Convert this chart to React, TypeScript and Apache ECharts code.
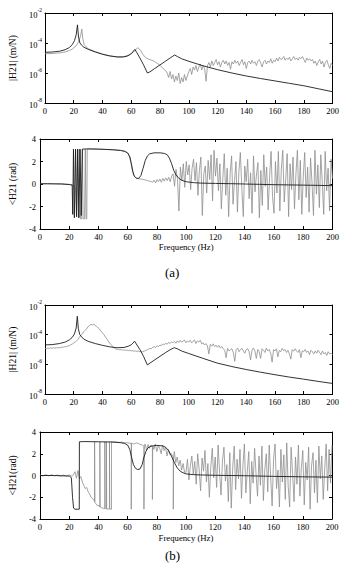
import React, { useEffect, useRef } from 'react';
import * as echarts from 'echarts';

// ---------- (a) |H21| : values are log10 of |H21| in m/N ----------
const magABlackFreq = [0,5,10,14,17,19,20.5,21.7,22.6,23.3,24.3,25.5,27,30,35,40,45,50,54,57,59.5,61,62.5,63.7,66,68.5,71.2,73,76,80,84,87,89,90.2,92,95,100,110,120,130,140,150,160,170,180,190,200];
const magABlackLog = [-4.62,-4.6,-4.55,-4.45,-4.3,-4.1,-3.85,-3.45,-2.79,-3.6,-4.0,-4.15,-4.28,-4.42,-4.6,-4.75,-4.86,-4.93,-4.94,-4.88,-4.75,-4.6,-4.42,-4.62,-5.0,-5.45,-6.0,-5.92,-5.72,-5.46,-5.2,-5.0,-4.87,-4.8,-4.9,-5.05,-5.22,-5.52,-5.78,-6.0,-6.2,-6.37,-6.53,-6.69,-6.85,-7.05,-7.25];

const magAGreyFreq = [0,5,10,14,17,19,21,22.6,23.8,24.8,25.6,26.3,27.2,28.5,30,35,40,45,50,55,58,61,63,64.7,66.5,68,70,72,74,76,78,80,82,84];
const magAGreyLog = [-4.71,-4.7,-4.66,-4.6,-4.5,-4.4,-4.25,-4.05,-3.8,-3.5,-3.07,-3.7,-4.1,-4.25,-4.38,-4.58,-4.74,-4.86,-4.92,-4.9,-4.82,-4.65,-4.45,-4.31,-4.5,-4.75,-4.98,-5.08,-5.14,-5.22,-5.35,-5.5,-5.68,-5.85];
// measured (noisy) part, one value per Hz from 85 Hz
const magAGreyNoiseStart = 85;
const magAGreyNoiseLog = [
  -6.0,-6.3,-5.9,-6.4,-6.1,-6.6,-6.2,-6.5,-6.0,-6.7,
  -6.3,-6.6,-6.1,-6.5,-6.2,-5.9,-5.7,-6.1,-5.6,-5.8,
  -5.5,-5.9,-5.6,-5.4,-5.8,-5.5,-5.7,-6.55,-5.5,-5.3,
  -5.6,-5.2,-5.5,-5.3,-5.1,-5.45,-5.25,-5.6,-5.3,-5.15,
  -5.4,-5.2,-5.5,-5.3,-5.75,-5.25,-5.4,-5.15,-5.35,-5.2,
  -5.5,-5.3,-5.1,-5.45,-5.25,-5.7,-5.3,-5.2,-5.4,-5.15,
  -5.35,-5.25,-5.5,-5.2,-5.1,-5.35,-5.6,-5.25,-5.15,-5.4,
  -5.2,-5.3,-5.05,-5.35,-5.15,-5.25,-5.0,-5.2,-4.95,-5.1,
  -5.05,-4.9,-5.15,-5.0,-5.1,-4.95,-5.2,-5.05,-4.9,-5.1,
  -5.0,-5.15,-4.95,-5.05,-4.9,-5.1,-5.3,-5.0,-5.15,-5.05,
  -5.2,-5.1,-5.35,-5.2,-5.5,-5.25,-5.1,-5.4,-5.2,-5.6,
  -5.3,-5.15,-5.45,-5.7,-5.35,-5.5
];

// ---------- (a) <H21 (rad) ----------
const phABlackFreq = [0,5,10,15,20,22,22.4,22.9,23.5,24.3,25.0,25.8,26.6,27.4,28.2,29,32,40,45,50,55,58,60,61.5,62.5,63.5,64.5,66,67.5,69,70.5,72,73.5,75,78,82,85,87,88.5,90,91.5,93,95,97,100,105,110,120,130,140,150,160,170,180,190,200];
const phABlack = [0.02,0.02,0.01,0,-0.05,-0.1,-2.7,3.1,-3.0,3.1,-2.9,3.1,-3.0,3.1,-2.8,3.1,3.12,3.1,3.07,3.04,2.98,2.9,2.75,2.4,1.8,1.1,0.7,0.5,0.5,0.75,1.4,2.1,2.5,2.68,2.77,2.77,2.72,2.6,2.3,1.8,1.2,0.8,0.5,0.33,0.2,0.12,0.08,0.05,0.03,0.0,-0.03,-0.06,-0.08,-0.1,-0.12,-0.15];

const phAGreyFreq = [0,5,10,15,20,22,23,24.5,25,25.6,26.3,27,27.7,28.5,29,29.5,30.5,31,31.5,32,32.3,35,40,45,50,55,58,60,61,62,63,64,65,67,70,72,74,76];
const phAGrey = [0.03,0.03,0.02,0.01,-0.03,-0.05,-0.15,-0.5,-2.9,3.1,-3.0,3.1,-3.1,-3.1,3.1,-3.1,-3.1,3.1,-3.1,-3.1,3.1,3.12,3.1,3.08,3.05,3.0,2.92,2.75,2.5,2.0,1.3,0.8,0.6,0.48,0.42,0.36,0.28,0.22];
const phAGreyNoiseStart = 77;
const phAGreyNoise = [
  0.15,0.35,0.1,0.4,0.2,0.45,0.15,0.5,0.25,0.55,
  0.3,0.6,0.2,0.7,0.9,-0.2,1.3,0.5,-2.4,1.5,
  0.3,1.8,-0.3,2.0,0.8,1.7,-0.5,1.4,2.2,0.3,
  1.9,-1.0,1.2,2.4,-2.8,0.9,1.6,-0.8,2.1,0.4,
  2.6,-1.5,3.0,0.7,2.3,-0.6,1.8,-2.2,0.5,2.7,
  -1.0,1.4,-2.9,0.9,2.5,-1.8,0.3,2.0,-2.5,1.1,
  2.8,-0.4,-2.9,1.6,0.2,2.2,-1.3,1.0,-2.6,2.5,
  -0.7,0.8,1.9,-3.0,1.2,-1.9,2.6,-0.2,1.5,-2.3,
  0.6,2.9,-1.1,-2.6,2.0,-0.8,2.9,-2.4,1.3,3.0,
  -1.6,0.4,2.7,-2.9,1.8,-0.5,2.4,-2.2,0.9,3.0,
  -1.4,2.1,-2.7,0.6,2.8,-1.2,1.5,-2.5,2.3,0.1,
  -2.8,3.0,-0.9,1.7,-2.1,2.6,0.2,-2.7,2.9,-0.6,
  1.4,-2.4,2.2,0.5
];

// ---------- (b) |H21| ----------
const magBBlackFreq = [0,5,10,14,17,19,20.5,21.7,22.5,23.2,24.2,25.5,27,30,35,40,45,50,55,58,60,61.3,62.3,63.5,66,68.5,71.2,73,76,80,84,87,89,90,92,95,100,110,120,130,140,150,160,170,180,190,200];
const magBBlackLog = [-4.69,-4.67,-4.6,-4.5,-4.35,-4.18,-3.95,-3.55,-2.76,-3.6,-4.0,-4.15,-4.3,-4.45,-4.6,-4.72,-4.82,-4.88,-4.86,-4.78,-4.68,-4.56,-4.44,-4.62,-5.0,-5.45,-6.04,-5.92,-5.72,-5.46,-5.2,-5.02,-4.92,-4.88,-4.95,-5.1,-5.27,-5.6,-5.92,-6.15,-6.35,-6.53,-6.7,-6.86,-7.0,-7.15,-7.29];
// one value per Hz from 0 Hz
const magBGreyStart = 0;
const magBGreyLog = [
  -4.92,-4.95,-4.9,-4.93,-4.89,-4.92,-4.88,-4.91,-4.87,-4.9,
  -4.86,-4.88,-4.83,-4.85,-4.8,-4.82,-4.76,-4.74,-4.68,-4.63,
  -4.56,-4.5,-4.42,-4.32,-4.16,-4.05,-3.95,-3.8,-3.7,-3.6,
  -3.45,-3.38,-3.3,-3.35,-3.28,-3.4,-3.45,-3.55,-3.62,-3.78,
  -3.88,-4.0,-4.15,-4.28,-4.42,-4.58,-4.66,-4.8,-4.88,-4.95,
  -4.98,-5.0,-5.02,-5.0,-5.04,-5.02,-5.06,-5.04,-5.08,-5.05,
  -5.1,-5.08,-5.12,-5.09,-5.13,-5.1,-5.15,-5.12,-5.16,-5.1,
  -5.08,-5.02,-4.98,-4.92,-4.95,-4.85,-4.82,-4.86,-4.75,-4.8,
  -4.7,-4.74,-4.62,-4.68,-4.58,-4.64,-4.52,-4.6,-4.48,-4.55,
  -4.45,-4.58,-4.42,-4.52,-4.38,-4.5,-4.44,-4.36,-4.55,-4.42,
  -4.5,-4.38,-4.56,-4.44,-4.35,-4.6,-4.42,-4.5,-4.37,-4.62,
  -4.55,-4.7,-4.6,-4.75,-5.3,-4.65,-4.78,-4.62,-4.8,-4.7,
  -4.85,-4.72,-4.9,-4.8,-4.95,-5.05,-5.55,-4.92,-5.1,-5.0,
  -4.95,-5.2,-5.8,-5.0,-4.9,-5.15,-5.0,-4.92,-5.1,-5.25,
  -5.0,-4.95,-5.15,-5.7,-5.05,-4.9,-5.1,-5.6,-5.0,-5.15,
  -5.6,-4.95,-5.05,-5.2,-4.9,-5.1,-5.0,-5.25,-5.85,-5.0,
  -5.1,-4.95,-5.5,-5.05,-5.15,-4.92,-5.08,-5.0,-5.2,-5.05,
  -5.3,-5.65,-5.0,-5.12,-4.95,-5.1,-5.2,-5.0,-5.55,-5.08,
  -5.15,-5.0,-5.2,-5.1,-5.35,-5.05,-5.15,-5.3,-5.1,-5.25,
  -5.05,-5.2,-5.35,-5.1,-5.3,-5.2,-5.4,-5.15,-5.3,-5.25,
  -5.35
];

// ---------- (b) <H21 (rad) ----------
const phBBlackFreq = [0,10,20,21.5,22.3,23,24,26.9,27,30,40,50,55,58,60,61.5,62.5,64,65.5,67,68.5,70,71,72.5,74,76,80,84,86,88,90,92,94,96,98,100,105,110,120,140,160,180,200];
const phBBlack = [0,0,-0.05,-0.2,-2.0,-3.0,-3.1,-3.1,3.1,3.12,3.1,3.08,3.02,2.95,2.8,2.4,1.8,1.0,0.65,0.55,0.6,1.0,1.6,2.2,2.55,2.7,2.77,2.72,2.6,2.3,1.8,1.2,0.7,0.4,0.25,0.15,0.08,0.05,0.02,-0.02,-0.08,-0.12,-0.15];
// grey, 0–99 Hz (with phase-wrap jumps)
const phBGreyFreq = [
  0,2,4,6,8,10,12,14,16,18,20,22,23,24,25,26,27,28,29,30,
  31,32,33,34,35,36,37,37.4,37.4,37.6,37.6,38.5,39.5,40.5,41,41,41.2,41.2,42,43,
  44.4,44.4,44.6,44.6,45.5,45.5,45.7,45.7,47.6,47.6,47.8,47.8,49,49,50,52,54,56,58,60,
  62,62.5,62.5,62.7,62.7,64,66,68,70,71.2,71.2,71.4,71.4,72,73,74,75,76,77,77,
  77.2,77.2,78,79,80,81,82,83,84,85,86,87,88,89,90,91.3,91.3,91.5,91.5,92,
  93,94,95,96,97,98,99
];
const phBGrey = [
  0.05,-0.05,0.08,-0.03,0.07,-0.05,0.05,-0.07,0.04,-0.06,0.05,-0.08,0.1,0.35,-0.25,0.45,-0.3,-0.1,-0.6,-0.9,
  -1.2,-1.1,-1.5,-1.7,-2.0,-2.1,-2.3,-2.4,3.1,3.1,-2.5,-2.6,-2.8,-2.75,-2.9,3.1,3.1,-2.9,-2.95,-3.0,
  -3.05,3.1,3.1,-3.0,-3.05,3.1,3.1,-3.1,-3.05,3.1,3.1,-3.1,-3.1,3.1,3.05,3.08,3.04,3.07,3.0,3.02,
  2.95,3.0,-3.1,-3.1,2.95,2.9,3.0,2.9,2.8,2.7,-3.1,-3.1,2.6,2.9,2.3,2.85,2.5,2.8,2.6,-2.2,
  -2.2,2.7,2.4,2.9,2.2,2.75,2.5,2.0,2.8,2.3,2.6,1.8,2.4,1.9,2.0,1.7,-3.1,-3.1,1.6,2.2,
  1.2,1.7,0.9,1.4,0.5,1.1,0.3
];
// grey, one value per Hz from 100 Hz
const phBGreyNoiseStart = 100;
const phBGreyNoise = [
  0.3,1.5,-0.4,0.9,1.8,0.1,1.3,-0.8,2.0,0.6,
  -1.4,1.6,0.4,2.3,-0.6,1.1,-2.0,0.8,2.5,-0.2,
  1.7,-1.1,2.8,0.3,-1.8,1.4,2.6,-0.5,1.0,-2.4,
  2.1,-3.0,0.7,2.7,-1.3,1.5,-0.3,2.4,-2.1,0.9,
  2.9,-1.6,0.4,2.2,-2.6,1.3,-0.7,2.5,0.1,-1.9,
  1.8,-0.9,2.7,-2.3,0.6,2.0,-1.5,2.8,-0.2,-2.8,
  1.6,2.9,-1.2,0.5,-2.9,2.4,-0.6,1.9,-2.2,3.0,
  -1.0,-2.9,2.6,0.2,-2.4,1.7,-0.8,2.8,-1.9,0.7,
  2.3,-2.7,1.2,-0.4,2.6,-3.1,0.9,2.1,-1.6,1.4,
  -2.5,2.7,-0.3,1.8,-2.2,0.6,2.9,-1.4,2.4,-0.7,
  2.8
];

const xTickStep = 20;
const magTicksMin = 1e-8;
const magTicksMax = 1e-2;
const phaseMin = -4;
const phaseMax = 4;
const phaseStep = 2;

const FONT = '"Liberation Serif", "Times New Roman", serif';
const BLACK = '#1c1c1c';
const GREY = '#8e8e8e';

const pairs = (f: number[], v: number[]) => f.map((x, i) => [x, v[i]]);
const pairsLog = (f: number[], v: number[]) => f.map((x, i) => [x, Math.pow(10, v[i])]);
const stepped = (start: number, v: number[]) => v.map((y, i) => [start + i, y]);
const steppedLog = (start: number, v: number[]) => v.map((y, i) => [start + i, Math.pow(10, y)]);

export default function App() {
  const ref = useRef<HTMLDivElement>(null);
  useEffect(() => {
    document.body.style.margin = '0';
    if (!ref.current) return;
    const chart = echarts.init(ref.current, null, { renderer: 'svg' });

    const grids = [
      { left: 26, top: 13, width: 307, height: 90 },
      { left: 26.5, top: 139, width: 306, height: 90 },
      { left: 27, top: 305, width: 305.5, height: 89 },
      { left: 27, top: 432, width: 305, height: 87 },
    ];
    const axisLine = { show: true, onZero: false, lineStyle: { color: '#000', width: 1 } };
    const tick = { show: true, inside: true, length: 3, lineStyle: { color: '#000', width: 1 } };
    const labelBase = { fontFamily: FONT, fontSize: 8.5, color: '#000' };

    const xAxes: any[] = [];
    const yAxes: any[] = [];
    grids.forEach((_, gi) => {
      const hasName = gi === 1 || gi === 3;
      xAxes.push({
        type: 'value', gridIndex: gi, min: 0, max: 200, interval: xTickStep,
        axisLine, axisTick: tick, splitLine: { show: false },
        axisLabel: { ...labelBase, margin: 3 },
        name: hasName ? 'Frequency (Hz)' : '',
        nameLocation: 'middle', nameGap: gi === 1 ? 13 : 14,
        nameTextStyle: { fontFamily: FONT, fontSize: 8.7, color: '#000' },
      });
      xAxes.push({
        type: 'value', gridIndex: gi, position: 'top', min: 0, max: 200, interval: xTickStep,
        axisLine, axisTick: tick, splitLine: { show: false }, axisLabel: { show: false },
      });
      const isMag = gi === 0 || gi === 2;
      const yName = isMag ? '|H21| (m/N)' : gi === 1 ? '<H21 (rad)' : '<H21(rad)';
      const yBase: any = isMag
        ? { type: 'log', logBase: 100, min: magTicksMin, max: magTicksMax }
        : { type: 'value', min: phaseMin, max: phaseMax, interval: phaseStep };
      yAxes.push({
        ...yBase, gridIndex: gi, position: 'left',
        axisLine, axisTick: tick, splitLine: { show: false },
        axisLabel: isMag
          ? {
              margin: 3,
              formatter: (v: number) => `{b|10}{s|${Math.round(Math.log10(v))}}`,
              rich: {
                b: { ...labelBase, lineHeight: 12, verticalAlign: 'bottom' },
                s: { fontFamily: FONT, fontSize: 5.5, color: '#000', lineHeight: 12, verticalAlign: 'top' },
              },
            }
          : { ...labelBase, margin: 4 },
        name: yName, nameLocation: 'middle', nameRotate: 90, nameGap: 20,
        nameTextStyle: { fontFamily: FONT, fontSize: 9.5, color: '#000' },
      });
      yAxes.push({
        ...yBase, gridIndex: gi, position: 'right',
        axisLine, axisTick: tick, splitLine: { show: false }, axisLabel: { show: false },
      });
    });

    const line = (data: any[], gi: number, color: string, width: number, z: number) => ({
      type: 'line', data, xAxisIndex: gi * 2, yAxisIndex: gi * 2,
      showSymbol: false, symbol: 'none', silent: true, z,
      lineStyle: { color, width },
    });

    const series = [
      line([...pairsLog(magAGreyFreq, magAGreyLog), ...steppedLog(magAGreyNoiseStart, magAGreyNoiseLog)], 0, GREY, 0.8, 2),
      line(pairsLog(magABlackFreq, magABlackLog), 0, BLACK, 0.9, 3),
      line([...pairs(phAGreyFreq, phAGrey), ...stepped(phAGreyNoiseStart, phAGreyNoise)], 1, GREY, 0.8, 2),
      line(pairs(phABlackFreq, phABlack), 1, BLACK, 0.9, 3),
      line(steppedLog(magBGreyStart, magBGreyLog), 2, GREY, 0.8, 2),
      line(pairsLog(magBBlackFreq, magBBlackLog), 2, BLACK, 0.9, 3),
      line([...pairs(phBGreyFreq, phBGrey), ...stepped(phBGreyNoiseStart, phBGreyNoise)], 3, GREY, 0.8, 2),
      line(pairs(phBBlackFreq, phBBlack), 3, BLACK, 0.9, 3),
    ];

    chart.setOption({
      animation: false,
      backgroundColor: '#fff',
      grid: grids,
      xAxis: xAxes,
      yAxis: yAxes,
      series,
      graphic: [
        { type: 'text', left: 165, top: 266, style: { text: '(a)', font: `13px ${FONT}`, fill: '#000' } },
        { type: 'text', left: 165, top: 549, style: { text: '(b)', font: `13px ${FONT}`, fill: '#000' } },
      ],
    });
    return () => chart.dispose();
  }, []);
  return <div ref={ref} style={{ width: 342, height: 564 }} />;
}
